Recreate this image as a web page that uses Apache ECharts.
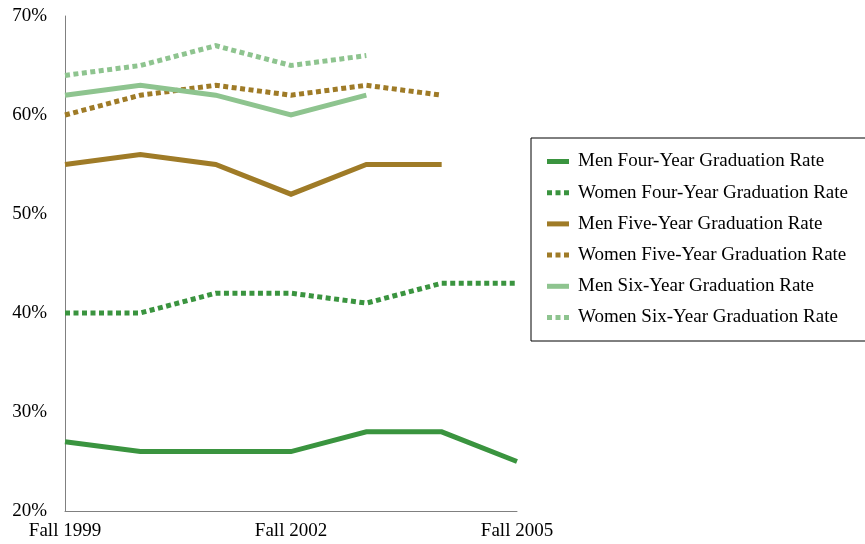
<!DOCTYPE html>
<html>
<head>
<meta charset="utf-8">
<script src="https://cdn.jsdelivr.net/npm/echarts@6/dist/echarts.min.js"></script>
<style>html,body{margin:0;padding:0;background:#fff}#c{width:865px;height:544px}</style>
</head>
<body>
<div id="c"></div>
<script>
const categories = ['Fall 1999','Fall 2000','Fall 2001','Fall 2002','Fall 2003','Fall 2004','Fall 2005'];
const menFour = [27, 26, 26, 26, 28, 28, 25];
const womenFour = [40, 40, 42, 42, 41, 43, 43];
const menFive = [55, 56, 55, 52, 55, 55, null];
const womenFive = [60, 62, 63, 62, 63, 62, null];
const menSix = [62, 63, 62, 60, 62, null, null];
const womenSix = [64, 65, 67, 65, 66, null, null];
const yTicks = [20, 30, 40, 50, 60, 70];

const DARK = '#3a943f', GOLD = '#9f7b27', LIGHT = '#8ec48f';
const DOT = 'path://M0,0h5v5h-5z M8.5,0h5v5h-5z M17,0h5v5h-5z';
const SOLID = 'path://M0,0h22v5h-22z';
const font = 'Liberation Serif';

function mk(name, data, color, dotted) {
  return {
    name, type: 'line', data, symbol: 'none', connectNulls: false,
    lineStyle: { color, width: 5, type: dotted ? [5, 3.5] : 'solid', cap: 'butt', join: 'miter' },
    itemStyle: { color },
    emphasis: { disabled: true }, animation: false
  };
}
const series = [
  mk('Men Four-Year Graduation Rate', menFour, DARK, false),
  mk('Women Four-Year Graduation Rate', womenFour, DARK, true),
  mk('Men Five-Year Graduation Rate', menFive, GOLD, false),
  mk('Women Five-Year Graduation Rate', womenFive, GOLD, true),
  mk('Men Six-Year Graduation Rate', menSix, LIGHT, false),
  mk('Women Six-Year Graduation Rate', womenSix, LIGHT, true)
];

const chart = echarts.init(document.getElementById('c'), null, { renderer: 'canvas' });
chart.setOption({
  animation: false,
  backgroundColor: '#fff',
  textStyle: { fontFamily: font },
  grid: { left: 65, right: 348, top: 16, bottom: 33, containLabel: false },
  xAxis: {
    type: 'category', data: categories, boundaryGap: false,
    axisLine: { lineStyle: { color: '#808080', width: 1 } },
    axisTick: { show: false },
    axisLabel: { interval: 2, color: '#000', fontSize: 19, fontFamily: font, margin: 11 },
    splitLine: { show: false }
  },
  yAxis: {
    type: 'value', min: yTicks[0], max: yTicks[yTicks.length - 1], interval: 10,
    axisLine: { show: true, lineStyle: { color: '#808080', width: 1 } },
    axisTick: { show: false },
    splitLine: { show: false },
    axisLabel: { color: '#000', fontSize: 19, fontFamily: font, margin: 18, formatter: v => v + '%' }
  },
  legend: {
    orient: 'vertical', left: 531, top: 138,
    borderColor: '#000', borderWidth: 1,
    padding: [14, 20, 14, 16],
    itemGap: 12.2, itemWidth: 22, itemHeight: 5,
    textStyle: { color: '#000', fontSize: 19, fontFamily: font, padding: [0, 0, 0, 4] },
    data: series.map((s, i) => ({ name: s.name, icon: i % 2 ? DOT : SOLID, itemStyle: { color: s.lineStyle.color } })),
    selectedMode: false
  },
  series
});
</script>
</body>
</html>
